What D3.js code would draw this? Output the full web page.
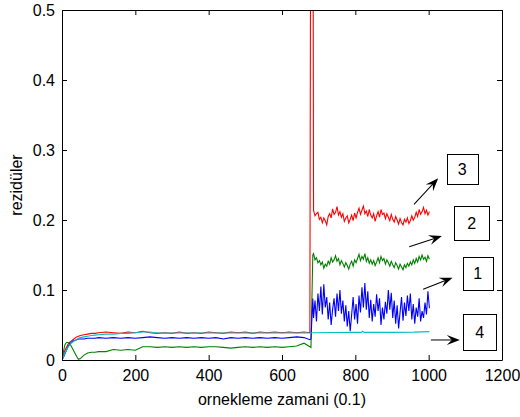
<!DOCTYPE html>
<html>
    <head>
        <meta charset="utf-8">
        <title>rezidüler</title>
        <script src="https://d3js.org/d3.v7.min.js"></script>
    </head>
    <style>
        body { margin: 0; background: #fff; }
        text { font-family: "Liberation Sans", Arial, sans-serif; }
    </style>
    <body>
        <div id="chart"></div>

        <script>
            // axis ticks
            var xTicks = [0, 200, 400, 600, 800, 1000, 1200];
            var xTickLabels = ["0", "200", "400", "600", "800", "1000", "1200"];
            var yTicks = [0, 0.1, 0.2, 0.3, 0.4, 0.5];
            var yTickLabels = ["0", "0.1", "0.2", "0.3", "0.4", "0.5"];

            // sample times before the fault
            var tPre = [0, 4, 8, 12, 16, 20, 25, 30, 35, 40, 45, 50,
                        60, 70, 80, 90, 100,
                        120, 140, 160, 180, 200, 220, 240, 260, 280, 300, 320, 340, 360, 380,
                        400, 420, 440, 460, 480, 500, 520, 540, 560, 580, 600, 620, 640, 660,
                        676];
            // the jump
            var tJump = [679, 684];
            // sample times after the fault (every 4th sample)
            var tPost = d3.range(686, 1003, 4);
            var tCyanPost = [686, 740, 800, 816, 820, 824, 900, 960, 1002];

            var redPre = [0, 0.007, 0.014, 0.018, 0.022, 0.025, 0.027, 0.029, 0.031, 0.033, 0.034, 0.035,
                          0.036, 0.037, 0.038, 0.038, 0.039,
                          0.040, 0.039, 0.038, 0.040, 0.039, 0.041, 0.039, 0.038, 0.039, 0.038, 0.040, 0.038, 0.039, 0.038,
                          0.040, 0.039, 0.038, 0.040, 0.039, 0.040, 0.038, 0.040, 0.039, 0.040, 0.039, 0.040, 0.039, 0.040,
                          0.039];
            var greenPre = [0, 0.012, 0.022, 0.025, 0.025, 0.024, 0.020, 0.015, 0.010, 0.005, 0.001, 0.002,
                            0.007, 0.010, 0.011, 0.011, 0.012,
                            0.012, 0.015, 0.014, 0.015, 0.014, 0.019, 0.019, 0.018, 0.019, 0.018, 0.019, 0.018, 0.019, 0.018,
                            0.019, 0.019, 0.018, 0.017, 0.018, 0.019, 0.018, 0.019, 0.018, 0.019, 0.018, 0.019, 0.020, 0.024,
                            0.019];
            var bluePre = [0, 0.004, 0.009, 0.014, 0.019, 0.022, 0.025, 0.027, 0.028, 0.029, 0.030, 0.030,
                           0.030, 0.031, 0.031, 0.031, 0.032,
                           0.031, 0.032, 0.031, 0.032, 0.031, 0.032, 0.033, 0.032, 0.031, 0.032, 0.031, 0.032, 0.031, 0.032,
                           0.031, 0.032, 0.030, 0.032, 0.031, 0.032, 0.031, 0.032, 0.031, 0.032, 0.031, 0.032, 0.033, 0.032,
                           0.029];
            var cyanPre = [0, 0.005, 0.010, 0.014, 0.018, 0.021, 0.024, 0.026, 0.028, 0.029, 0.031, 0.032,
                           0.033, 0.034, 0.035, 0.0355, 0.036,
                           0.037, 0.037, 0.038, 0.038, 0.039, 0.040, 0.040, 0.0385, 0.0385, 0.0385, 0.0385, 0.0385, 0.0385, 0.0385,
                           0.0385, 0.0385, 0.0385, 0.0385, 0.0385, 0.0385, 0.0385, 0.0385, 0.0385, 0.0385, 0.0385, 0.0385, 0.0385, 0.0385,
                           0.0385];

            var redJump = [0.9, 0.9];
            var greenJump = [0.018, 0.150];
            var blueJump = [0.030, 0.088];
            var cyanJump = [0.0385, 0.039];

            var redPost = [0.214, 0.206, 0.209, 0.211, 0.201, 0.204, 0.196, 0.203, 0.199, 0.193,
                           0.205, 0.209, 0.203, 0.216, 0.208, 0.211, 0.219, 0.207, 0.212, 0.204,
                           0.209, 0.198, 0.203, 0.206, 0.196, 0.201, 0.207, 0.199, 0.210, 0.203,
                           0.211, 0.217, 0.208, 0.214, 0.220, 0.209, 0.213, 0.205, 0.215, 0.207,
                           0.203, 0.209, 0.198, 0.206, 0.212, 0.204, 0.215, 0.208, 0.210, 0.202,
                           0.209, 0.204, 0.199, 0.208, 0.201, 0.197, 0.205, 0.200, 0.194, 0.202,
                           0.196, 0.193, 0.201, 0.197, 0.203, 0.195, 0.199, 0.206, 0.200, 0.204,
                           0.211, 0.205, 0.215, 0.208, 0.212, 0.218, 0.209, 0.214, 0.207, 0.212];
            var greenPost = [0.152, 0.143, 0.146, 0.139, 0.142, 0.136, 0.140, 0.131, 0.137, 0.134,
                             0.141, 0.137, 0.146, 0.140, 0.143, 0.149, 0.141, 0.145, 0.136, 0.142,
                             0.138, 0.133, 0.139, 0.135, 0.130, 0.137, 0.141, 0.134, 0.143, 0.139,
                             0.145, 0.151, 0.142, 0.148, 0.144, 0.152, 0.141, 0.146, 0.138, 0.143,
                             0.137, 0.142, 0.135, 0.140, 0.146, 0.139, 0.148, 0.142, 0.145, 0.137,
                             0.143, 0.139, 0.134, 0.141, 0.136, 0.132, 0.139, 0.135, 0.130, 0.137,
                             0.133, 0.129, 0.136, 0.132, 0.138, 0.134, 0.140, 0.136, 0.143, 0.138,
                             0.145, 0.140, 0.148, 0.143, 0.150, 0.144, 0.147, 0.141, 0.149, 0.144];
            var bluePost = [0.060, 0.085, 0.055, 0.095, 0.070, 0.105, 0.065, 0.108, 0.075, 0.090,
                            0.058, 0.082, 0.050, 0.072, 0.088, 0.062, 0.095, 0.070, 0.100, 0.066,
                            0.085, 0.055, 0.078, 0.048, 0.070, 0.041, 0.065, 0.090, 0.058, 0.080,
                            0.052, 0.092, 0.068, 0.104, 0.075, 0.110, 0.072, 0.098, 0.060, 0.086,
                            0.055, 0.080, 0.062, 0.094, 0.070, 0.088, 0.050, 0.075, 0.058, 0.083,
                            0.066, 0.100, 0.072, 0.096, 0.060, 0.085, 0.052, 0.078, 0.045, 0.068,
                            0.090, 0.056, 0.082, 0.063, 0.092, 0.070, 0.095, 0.058, 0.080, 0.052,
                            0.075, 0.062, 0.088, 0.055, 0.070, 0.060, 0.082, 0.065, 0.098, 0.074];
            var cyanPost = [0.039, 0.0392, 0.0395, 0.0395, 0.041, 0.0395, 0.0395, 0.0398, 0.0405];

            // numbered boxes and arrows (data units)
            var boxLabels = ["3", "2", "1", "4"];
            var boxX0 = [1049, 1070, 1093, 1094];
            var boxX1 = [1134, 1165, 1175, 1184];
            var boxY0 = [0.294, 0.2204, 0.1476, 0.0653];
            var boxY1 = [0.251, 0.1714, 0.100, 0.0143];
            var arrowTail = [[960, 0.2224], [947, 0.1619], [985, 0.101], [1006, 0.0286]];
            var arrowHead = [[1026, 0.2596], [1036, 0.177], [1065, 0.1176], [1085, 0.0286]];

            var series = [
                {color: "#ff0000", t: tPre.concat(tJump, tPost), v: redPre.concat(redJump, redPost)},
                {color: "#008000", t: tPre.concat(tJump, tPost), v: greenPre.concat(greenJump, greenPost)},
                {color: "#0000ff", t: tPre.concat(tJump, tPost), v: bluePre.concat(blueJump, bluePost)},
                {color: "#00bfbf", t: tPre.concat(tJump, tCyanPost), v: cyanPre.concat(cyanJump, cyanPost)}
            ];

            var W = 520, H = 417;
            var margin = {top: 10, right: 18, bottom: 57, left: 62};

            var svg = d3.select("#chart").append("svg")
                .attr("width", W)
                .attr("height", H);

            var x = d3.scaleLinear().domain([0, 1200]).range([margin.left, W - margin.right]);
            var y = d3.scaleLinear().domain([0, 0.5]).range([H - margin.bottom, margin.top]);

            svg.append("clipPath").attr("id", "plotclip")
              .append("rect")
                .attr("x", x(0)).attr("y", y(0.5))
                .attr("width", x(1200) - x(0)).attr("height", y(0) - y(0.5));

            // the lines
            var line = d3.line()
                .x(function(d) { return x(d[0]); })
                .y(function(d) { return y(d[1]); });

            svg.append("g").attr("clip-path", "url(#plotclip)")
              .selectAll("path")
                .data(series)
              .enter().append("path")
                .attr("fill", "none")
                .attr("stroke", function(s) { return s.color; })
                .attr("stroke-width", 1.1)
                .attr("d", function(s) { return line(s.t.map(function(t, i) { return [t, s.v[i]]; })); });

            // axes (ticks pointing inwards, box on)
            function style(g) {
                g.selectAll("text").attr("font-size", 16).attr("fill", "#000")
                    .style("font-family", "'Liberation Sans', Arial, sans-serif");
                g.selectAll("line, path").attr("stroke", "#000");
            }
            svg.append("g")
                .attr("transform", "translate(0," + y(0) + ")")
                .call(d3.axisBottom(x).tickValues(xTicks).tickSize(-5).tickSizeOuter(0).tickPadding(10)
                    .tickFormat(function(d, i) { return xTickLabels[i]; }))
                .call(style);
            svg.append("g")
                .attr("transform", "translate(0," + y(0.5) + ")")
                .call(d3.axisTop(x).tickValues(xTicks).tickSize(-5).tickSizeOuter(0).tickFormat(""))
                .call(style);
            svg.append("g")
                .attr("transform", "translate(" + x(0) + ",0)")
                .call(d3.axisLeft(y).tickValues(yTicks).tickSize(-5).tickSizeOuter(0).tickPadding(7)
                    .tickFormat(function(d, i) { return yTickLabels[i]; }))
                .call(style);
            svg.append("g")
                .attr("transform", "translate(" + x(1200) + ",0)")
                .call(d3.axisRight(y).tickValues(yTicks).tickSize(-5).tickSizeOuter(0).tickFormat(""))
                .call(style);

            // axis titles
            svg.append("text")
                .attr("x", (x(0) + x(1200)) / 2)
                .attr("y", 405)
                .attr("text-anchor", "middle")
                .attr("font-size", 16)
                .text("ornekleme zamani (0.1)");
            svg.append("text")
                .attr("transform", "translate(22," + (y(0) + y(0.5)) / 2 + ") rotate(-90)")
                .attr("text-anchor", "middle")
                .attr("font-size", 16)
                .text("rezidüler");

            // annotation arrows
            var ann = svg.append("g");
            arrowTail.forEach(function(tail, i) {
                var x0 = x(tail[0]), y0 = y(tail[1]);
                var x1 = x(arrowHead[i][0]), y1 = y(arrowHead[i][1]);
                var ang = Math.atan2(y1 - y0, x1 - x0) * 180 / Math.PI;
                var len = Math.hypot(x1 - x0, y1 - y0);
                var a = ann.append("g")
                    .attr("transform", "translate(" + x0 + "," + y0 + ") rotate(" + ang + ")");
                a.append("line")
                    .attr("x1", 0).attr("y1", 0)
                    .attr("x2", len - 7).attr("y2", 0)
                    .attr("stroke", "#000").attr("stroke-width", 1);
                a.append("path")
                    .attr("d", "M" + len + ",0L" + (len - 13) + ",-5L" + (len - 8) + ",0L" + (len - 13) + ",5Z")
                    .attr("fill", "#000");
            });

            // numbered boxes
            boxLabels.forEach(function(lab, i) {
                var bx = x(boxX0[i]), by = y(boxY0[i]);
                var bw = x(boxX1[i]) - bx, bh = y(boxY1[i]) - by;
                ann.append("rect")
                    .attr("x", Math.round(bx) + 0.5).attr("y", Math.round(by) + 0.5)
                    .attr("width", Math.round(bw)).attr("height", Math.round(bh))
                    .attr("fill", "#fff").attr("stroke", "#000").attr("stroke-width", 1);
                ann.append("text")
                    .attr("x", bx + bw / 2)
                    .attr("y", by + bh / 2)
                    .attr("dy", "0.36em")
                    .attr("text-anchor", "middle")
                    .attr("font-size", 16)
                    .text(lab);
            });
        </script>
    </body>
</html>
